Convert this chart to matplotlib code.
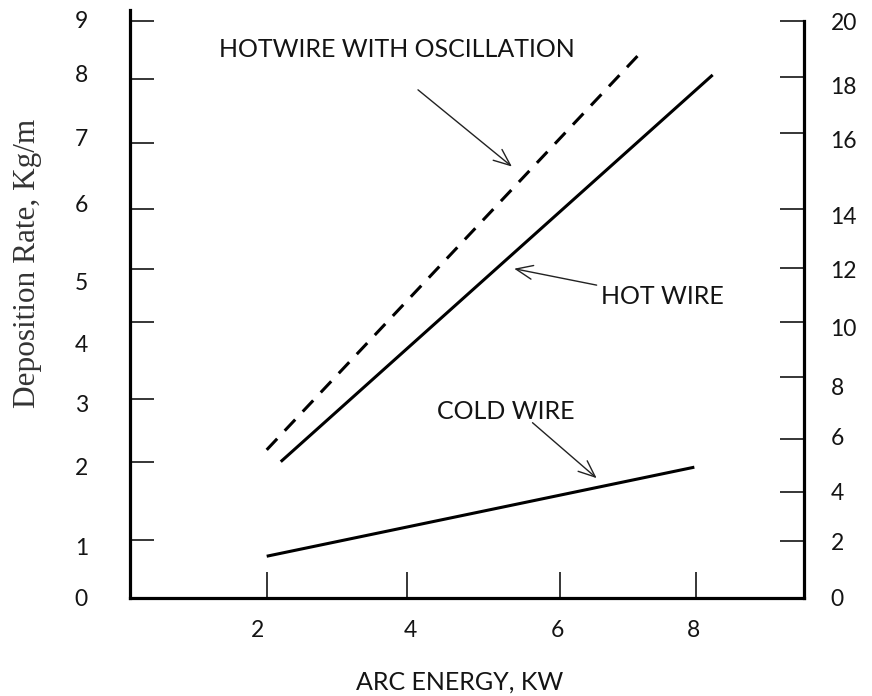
import numpy as np
import matplotlib
matplotlib.use("Agg")
import matplotlib.pyplot as plt
from matplotlib.ticker import FixedLocator, FixedFormatter, NullFormatter

# ---------------- data ----------------
osc_kw = [2.0, 7.22]          # HOTWIRE WITH OSCILLATION (dashed)
osc_rate = [2.19, 8.49]
hot_kw = [2.2, 8.25]          # HOT WIRE
hot_rate = [2.0, 8.07]
cold_kw = [2.0, 7.98]         # COLD WIRE
cold_rate = [0.72, 1.93]

x_tick_vals = [2, 4, 6, 8]
left_tick_vals = [0, 1, 2, 3, 4, 5, 6, 7, 8, 9]
right_tick_vals = [0, 2, 4, 6, 8, 10, 12, 14, 16, 18, 20]

# ---------------- layout: hand-drawn axis calibration (px from axis origin) ----------------
X_CAL_VAL = [0, 2, 4, 6, 8, 10]
X_CAL_PX = [0, 136.7, 277.3, 430, 565.7, 701.4]
L_CAL_VAL = [0, 1, 2, 3, 4, 5, 6, 7, 8, 9, 10]
L_CAL_PX = [0, 58, 136.3, 198.7, 276.3, 329.3, 389, 455.3, 519, 577.3, 635.6]
R_CAL_VAL = [0, 2, 4, 6, 8, 10, 12, 14, 16, 18, 20, 22]
R_CAL_PX = [0, 57, 106.3, 159, 220.7, 276.3, 329.7, 388.7, 465.3, 521.3, 577.3, 633.3]
# where the tick numbers sit (px from axis origin)
X_LAB_PX = [127.8, 280.7, 427, 564]
L_LAB_PX = [-1, 51.3, 131.3, 194.7, 254.7, 316.3, 394.3, 460, 524.2, 578]
R_LAB_PX = [-0.3, 56.3, 106.3, 161.3, 211.3, 271, 328, 382.7, 458, 512.3, 576.3]


def make_scale(vals, px):
    vals = np.asarray(vals, float)
    px = np.asarray(px, float)
    fwd = lambda v: np.interp(v, vals, px)
    inv = lambda p: np.interp(p, px, vals)
    return fwd, inv


xf, xi = make_scale(X_CAL_VAL, X_CAL_PX)
lf, li = make_scale(L_CAL_VAL, L_CAL_PX)
rf, ri = make_scale(R_CAL_VAL, R_CAL_PX)

W, H = 872, 696
fig = plt.figure(figsize=(W / 100, H / 100), dpi=100)
x0, y0 = 130, 598          # axes origin in pixels
ax_w, ax_h = 674, 588
ax = fig.add_axes([x0 / W, (H - y0) / H, ax_w / W, ax_h / H])
ax2 = ax.twinx()

SANS = ["Lato", "DejaVu Sans"]
TXT = "#141414"
FS = 16.5      # tick numbers
FT = 18        # words

ax.set_xscale("function", functions=(xf, xi))
ax.set_yscale("function", functions=(lf, li))
ax2.set_yscale("function", functions=(rf, ri))
ax.set_xlim(0, float(xi(ax_w)))
ax.set_ylim(0, float(li(ax_h)))
ax2.set_ylim(0, float(ri(ax_h)))

# lines
ax.plot(osc_kw, osc_rate, color="black", lw=2.2, dashes=(5.0, 3.6), solid_capstyle="butt")
ax.plot(hot_kw, hot_rate, color="black", lw=2.2, solid_capstyle="butt")
ax.plot(cold_kw, cold_rate, color="black", lw=2.2, solid_capstyle="butt")

# spines
for s in ["top", "right"]:
    ax.spines[s].set_visible(False)
for s in ["top", "left", "bottom"]:
    ax2.spines[s].set_visible(False)
for sp in [ax.spines["left"], ax.spines["bottom"], ax2.spines["right"]]:
    sp.set_linewidth(2.3)
    sp.set_color("black")
    sp.set_capstyle("projecting")
ax2.spines["right"].set_bounds(0, 20)

# major ticks (marks only)
ax.xaxis.set_major_locator(FixedLocator(x_tick_vals))
ax.xaxis.set_major_formatter(NullFormatter())
ax.yaxis.set_major_locator(FixedLocator(left_tick_vals[1:]))
ax.yaxis.set_major_formatter(NullFormatter())
ax2.yaxis.set_major_locator(FixedLocator(right_tick_vals[1:]))
ax2.yaxis.set_major_formatter(NullFormatter())
ax.tick_params(axis="x", which="major", direction="in", length=18.5, width=1.1, color="black")
ax.tick_params(axis="y", which="major", direction="in", length=17, width=1.1, color="black")
ax2.tick_params(axis="y", which="major", direction="in", length=17, width=1.1, color="black")

# tick numbers (minor ticks of zero length, placed where the numbers sit)
for axis in (ax.xaxis, ax.yaxis, ax2.yaxis):
    axis.remove_overlapping_locs = False
ax.xaxis.set_minor_locator(FixedLocator(xi(np.array(X_LAB_PX))))
ax.xaxis.set_minor_formatter(FixedFormatter([str(v) for v in x_tick_vals]))
ax.yaxis.set_minor_locator(FixedLocator(li(np.array(L_LAB_PX))))
ax.yaxis.set_minor_formatter(FixedFormatter([str(v) for v in left_tick_vals]))
ax2.yaxis.set_minor_locator(FixedLocator(ri(np.array(R_LAB_PX))))
ax2.yaxis.set_minor_formatter(FixedFormatter([str(v) for v in right_tick_vals]))
ax.tick_params(axis="x", which="minor", length=0, pad=16, labelsize=FS, labelcolor=TXT)
ax.tick_params(axis="y", which="minor", length=0, pad=35, labelsize=FS, labelcolor=TXT)
ax2.tick_params(axis="y", which="minor", length=0, pad=19, labelsize=FS, labelcolor=TXT)
for lab in ax.get_xticklabels(which="minor") + ax.get_yticklabels(which="minor") + ax2.get_yticklabels(which="minor"):
    lab.set_family(SANS)
for lab in ax.get_yticklabels(which="minor"):
    lab.set_horizontalalignment("center")

# axis titles
ax.set_xlabel("ARC ENERGY, KW", family=SANS, fontsize=FT, color=TXT, va="center")
ax.xaxis.set_label_coords((460 - x0) / ax_w, (y0 - 681.7) / ax_h)
ax.set_ylabel("Deposition Rate, Kg/m", family=["Liberation Serif", "DejaVu Serif"],
              fontsize=22.5, color="#333333", va="center")
ax.yaxis.set_label_coords((28 - x0) / ax_w, (y0 - 263) / ax_h)

# annotations
ax.text(1.30, 8.51, "HOTWIRE WITH OSCILLATION", family=SANS, fontsize=FT, color=TXT,
        ha="left", va="center")
ax.text(6.61, 4.48, "HOT WIRE", family=SANS, fontsize=FT, color=TXT, ha="left", va="center")
ax.text(4.39, 2.80, "COLD WIRE", family=SANS, fontsize=FT, color=TXT, ha="left", va="center")

aprops = dict(arrowstyle="->,head_length=0.6,head_width=0.25", lw=1.0, color="#222222",
              shrinkA=0, shrinkB=0, mutation_scale=20)
ax.annotate("", xy=(5.37, 6.64), xytext=(4.14, 7.83), arrowprops=aprops)
ax.annotate("", xy=(5.40, 5.00), xytext=(6.54, 4.69), arrowprops=aprops)
ax.annotate("", xy=(6.54, 1.79), xytext=(5.64, 2.625), arrowprops=aprops)

fig.savefig("out.png", dpi=100)
